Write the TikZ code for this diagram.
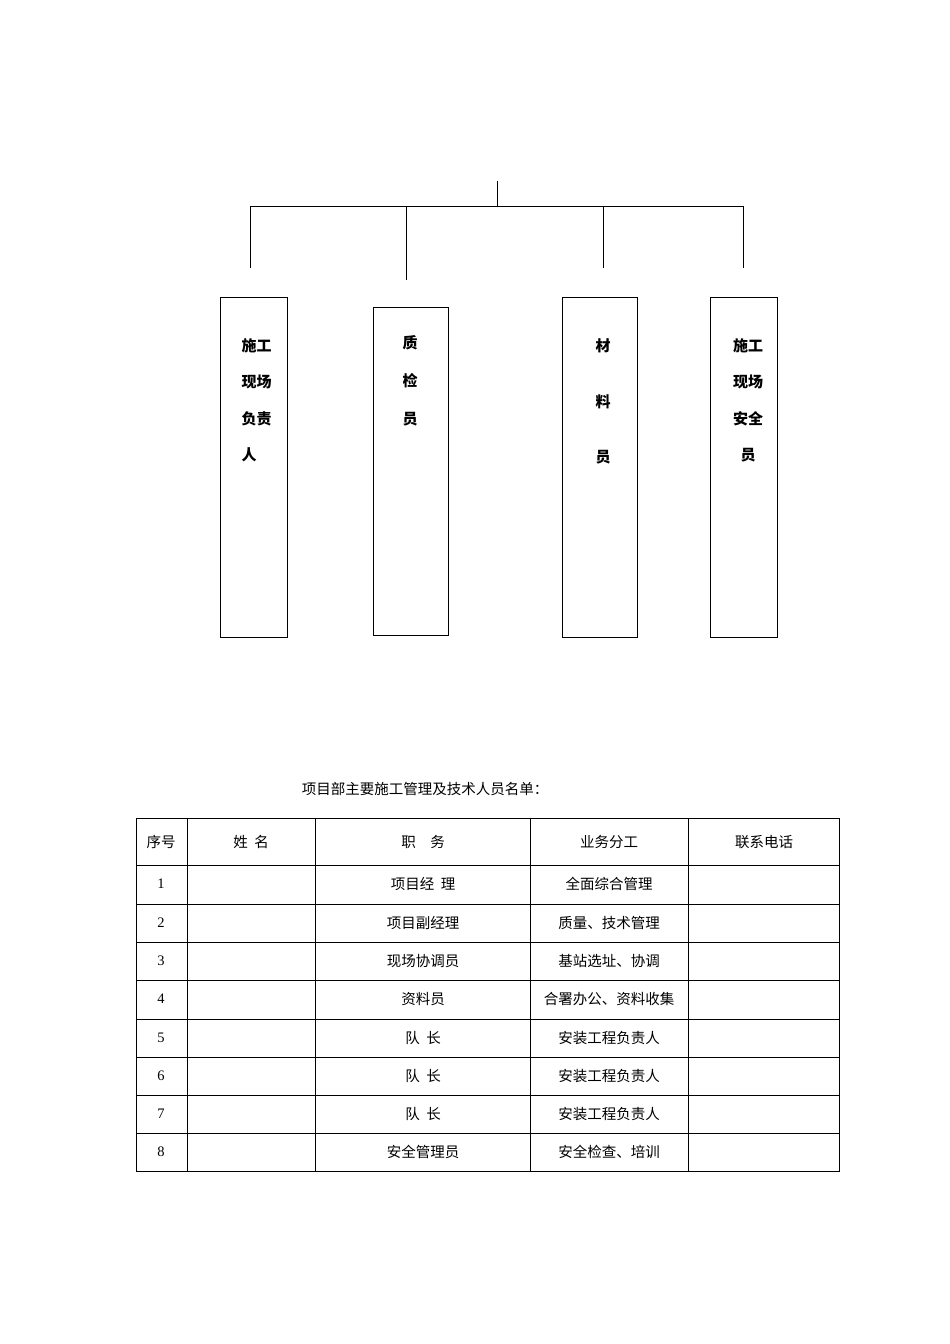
\documentclass[tikz,border=0pt]{standalone}
\usepackage{fontspec}
\newfontfamily\cjk{Noto Sans CJK SC}
\setmainfont{Liberation Serif}
\begin{document}
\begin{tikzpicture}[x=1pt,y=-1pt,line width=1pt,
 bx/.style={draw,line width=1pt},
 bt/.style={font=\cjk\bfseries\fontsize{15}{15}\selectfont,inner sep=0},
 tt/.style={font=\cjk\fontsize{14.5}{15}\selectfont,inner sep=0}]
\useasboundingbox (0,0) rectangle (950,1344);
\coordinate (top) at (497,181); \coordinate (mid) at (497,206);
\coordinate (l) at (250,206); \coordinate (r) at (743,206);
\draw (top)--(mid); \draw (l)--(r);
\coordinate (a1) at (250,206); \coordinate (a2) at (250,268);
\coordinate (b1) at (406,206); \coordinate (b2) at (406,280);
\coordinate (c1) at (603,206); \coordinate (c2) at (603,268);
\coordinate (d1) at (743,206); \coordinate (d2) at (743,268);
\draw (a1)--(a2); \draw (b1)--(b2); \draw (c1)--(c2); \draw (d1)--(d2);
\draw[bx] (220,297) rectangle (287,637);
\draw[bx] (373,307) rectangle (448,635);
\draw[bx] (562,297) rectangle (637,637);
\draw[bx] (710,297) rectangle (777,637);
\node[bt,anchor=west] (a) at (241,346) {施工};
\node[bt,anchor=west] at (241,382) {现场};
\node[bt,anchor=west] at (241,419) {负责};
\node[bt,anchor=west] at (241,455) {人};
\node[bt] (b) at (410,343) {质};
\node[bt] at (410,381) {检};
\node[bt] at (410,419) {员};
\node[bt] (c) at (603,346) {材};
\node[bt] at (603,402) {料};
\node[bt] at (603,457) {员};
\node[bt] (d) at (748,346) {施工};
\node[bt] at (748,382) {现场};
\node[bt] at (748,419) {安全};
\node[bt] at (748,455) {员};
\node[tt] (title) at (425,789) {项目部主要施工管理及技术人员名单：};
\draw[line width=0.8pt] (136,818) rectangle (839,1171);
\foreach \x in {187,315,530,688} \draw[line width=0.8pt] (\x,818)--(\x,1171);
\foreach \y in {865,904,942,980,1019,1057,1095,1133} \draw[line width=0.8pt] (136,\y)--(839,\y);
\node[tt] at (161,842) {序号};
\node[tt] at (251,842) {姓\ \ 名};
\node[tt] at (423,842) {职\quad 务};
\node[tt] at (609,842) {业务分工};
\node[tt] at (764,842) {联系电话};
\foreach \i/\y/\p/\w in {1/884/项目经\ \ 理/全面综合管理,2/923/项目副经理/质量、技术管理,3/961/现场协调员/基站选址、协调,4/999/资料员/合署办公、资料收集,5/1038/队\ \ 长/安装工程负责人,6/1076/队\ \ 长/安装工程负责人,7/1114/队\ \ 长/安装工程负责人,8/1152/安全管理员/安全检查、培训}{
 \node[tt,font=\fontsize{14.5}{15}\selectfont] at (161,\y) {\i};
 \node[tt] at (423,\y) {\p};
 \node[tt] at (609,\y) {\w};
}
\end{tikzpicture}
\end{document}
